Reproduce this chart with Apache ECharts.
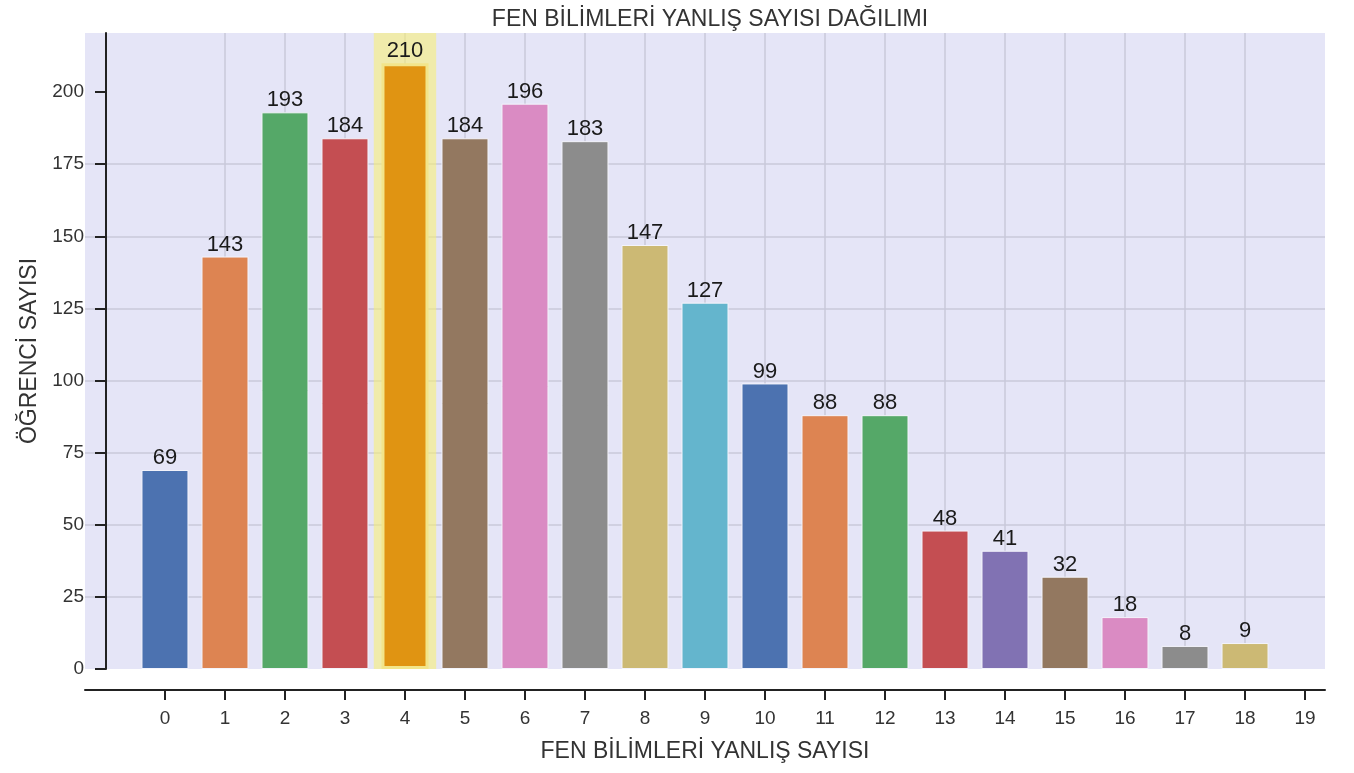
<!DOCTYPE html>
<html>
<head>
    <meta charset="utf-8">
    <title>FEN BİLİMLERİ YANLIŞ SAYISI DAĞILIMI</title>
    <script src="https://cdn.jsdelivr.net/npm/echarts@6/dist/echarts.min.js"></script>
    <style>
        html, body { margin: 0; padding: 0; background: #fff; }
        #main { width: 1354px; height: 773px; }
    </style>
</head>
<body>
<div id="main"></div>
<script type="text/javascript">
    // veriler
    var yanlis = [0, 1, 2, 3, 4, 5, 6, 7, 8, 9, 10, 11, 12, 13, 14, 15, 16, 17, 18];
    var ogrenci = [69, 143, 193, 184, 210, 184, 196, 183, 147, 127, 99, 88, 88, 48, 41, 32, 18, 8, 9];
    var xTicks = [0, 1, 2, 3, 4, 5, 6, 7, 8, 9, 10, 11, 12, 13, 14, 15, 16, 17, 18, 19];
    var yTicks = [0, 25, 50, 75, 100, 125, 150, 175, 200];
    var renkler = ['#4C72B0', '#DD8452', '#55A868', '#C44E52', '#E09412', '#937860', '#DA8BC3',
        '#8C8C8C', '#CCB974', '#64B5CD', '#4C72B0', '#DD8452', '#55A868', '#C44E52',
        '#8172B3', '#937860', '#DA8BC3', '#8C8C8C', '#CCB974'];
    var enCok = 4; // en yüksek çubuk

    var myChart = echarts.init(document.getElementById('main'));

    var veri = [];
    for (var i = 0; i < yanlis.length; i++) {
        veri.push({
            value: [yanlis[i], ogrenci[i]],
            itemStyle: {
                color: renkler[i],
                borderColor: i === enCok ? '#F2E58A' : '#F4F4FB',
                borderWidth: i === enCok ? 3 : 1
            }
        });
    }

    var yazi = 'Liberation Sans';

    var option = {
        animation: false,
        title: {
            text: 'FEN BİLİMLERİ YANLIŞ SAYISI DAĞILIMI',
            left: 705,
            textAlign: 'center',
            top: 3,
            textStyle: {fontFamily: yazi, fontSize: 23, fontWeight: 'normal', color: '#333'}
        },
        grid: {
            left: 85, right: 29, top: 33, bottom: 104,
            show: true, backgroundColor: '#E5E5F7', borderWidth: 0
        },
        xAxis: {
            type: 'value',
            min: -1.333,
            max: 19.333,
            offset: 21,
            name: 'FEN BİLİMLERİ YANLIŞ SAYISI',
            nameLocation: 'middle',
            nameGap: 50,
            nameTextStyle: {fontFamily: yazi, fontSize: 23, color: '#333'},
            axisLine: {show: true, onZero: false, lineStyle: {color: '#222', width: 2}},
            axisTick: {show: true, length: 10, customValues: xTicks, lineStyle: {color: '#222', width: 2}},
            axisLabel: {customValues: xTicks, fontFamily: yazi, fontSize: 19, color: '#333', margin: 19},
            splitLine: {show: true, showMinLine: false, showMaxLine: false, lineStyle: {color: '#C8C9DA', width: 1.5}}
        },
        yAxis: {
            type: 'value',
            min: 0,
            max: 220.5,
            interval: 25,
            offset: -21,
            name: 'ÖĞRENCİ SAYISI',
            nameLocation: 'middle',
            nameGap: 64,
            nameTextStyle: {fontFamily: yazi, fontSize: 23, color: '#333'},
            axisLine: {show: true, onZero: false, lineStyle: {color: '#222', width: 2}},
            axisTick: {show: true, length: 11, customValues: yTicks, lineStyle: {color: '#222', width: 2}},
            axisLabel: {customValues: yTicks, fontFamily: yazi, fontSize: 19, color: '#333', margin: 22},
            splitLine: {show: true, showMinLine: false, showMaxLine: false, lineStyle: {color: '#C8C9DA', width: 1.5}}
        },
        series: [{
            type: 'bar',
            data: veri,
            barWidth: 47,
            label: {
                show: true,
                position: 'top',
                distance: 1,
                formatter: function (p) { return p.value[1]; },
                fontFamily: yazi,
                fontSize: 22,
                color: '#1a1a1a'
            },
            markArea: {
                silent: true,
                itemStyle: {color: 'rgba(250, 240, 110, 0.55)'},
                data: [[{xAxis: enCok - 0.52}, {xAxis: enCok + 0.52}]]
            }
        }]
    };
    myChart.setOption(option);
</script>
</body>
</html>
